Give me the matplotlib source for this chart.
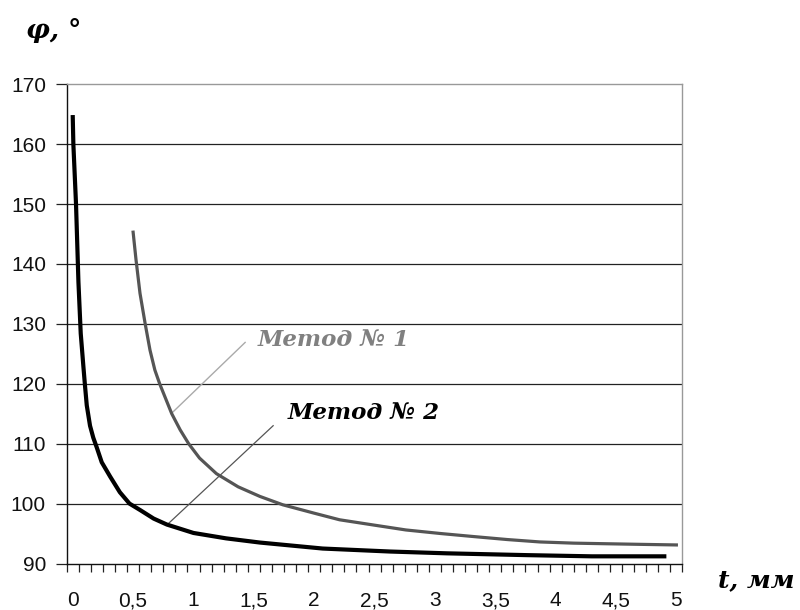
import numpy as np
import matplotlib
matplotlib.use('Agg')
import matplotlib.pyplot as plt
from matplotlib.ticker import FixedLocator

# Метод № 1 (серая кривая)
t1 = [0.5, 0.524, 0.557, 0.6, 0.64, 0.68, 0.72, 0.82, 0.89, 0.96, 1.05, 1.19, 1.37,
      1.55, 1.74, 2.0, 2.21, 2.5, 2.76, 3.05, 3.32, 3.6, 3.87, 4.15, 4.42, 4.7, 5.0]
phi1 = [145.3, 140.7, 135.1, 130, 125.6, 122.3, 120, 115, 112.3, 110, 107.6, 105, 102.8,
        101.2, 99.8, 98.4, 97.3, 96.4, 95.6, 95.0, 94.5, 94.0, 93.6, 93.4, 93.3, 93.2, 93.1]

# Метод № 2 (чёрная кривая)
t2 = [0, 0.005, 0.027, 0.047, 0.066, 0.088, 0.1, 0.116, 0.143, 0.17, 0.2, 0.24, 0.31,
      0.39, 0.47, 0.56, 0.67, 0.78, 1.0, 1.27, 1.55, 2.07, 2.63, 3.1, 3.76, 4.3, 4.9]
phi2 = [164.5, 160, 150, 137, 128.4, 122.9, 120, 116.4, 113.0, 111, 109.3, 106.9, 104.5,
        101.9, 100, 98.9, 97.5, 96.5, 95.1, 94.2, 93.5, 92.5, 92.0, 91.7, 91.4, 91.2, 91.2]

x_ticks = [0, 0.5, 1, 1.5, 2, 2.5, 3, 3.5, 4, 4.5, 5]
x_labels = ['0', '0,5', '1', '1,5', '2', '2,5', '3', '3,5', '4', '4,5', '5']
y_ticks = [90, 100, 110, 120, 130, 140, 150, 160, 170]

serif_bi = dict(family=['DejaVu Serif'], weight='bold', style='italic')

fig = plt.figure(figsize=(8, 6.1), dpi=100)
ax = fig.add_axes([0.0834, 0.0762, 0.853 - 0.0834, 0.862 - 0.0762])

# сетка
for y in y_ticks[1:-1]:
    ax.axhline(y, color='#222222', lw=0.9, zorder=1)

ax.plot(t1, phi1, color='#555555', lw=2.3, solid_joinstyle='round', zorder=3)
ax.plot(t2, phi2, color='#000000', lw=3.0, solid_joinstyle='round', zorder=3)

ax.set_xlim(-0.05, 5.05)
ax.set_ylim(90, 170)

ax.xaxis.set_major_locator(FixedLocator(x_ticks))
ax.set_xticklabels(x_labels)
ax.xaxis.set_minor_locator(FixedLocator(np.round(np.arange(-0.05, 5.06, 0.1), 3)))
ax.tick_params(axis='x', which='major', length=0, pad=20)
ax.tick_params(axis='x', which='minor', length=6, width=0.9, color='#222222', direction='out')
ax.set_yticks(y_ticks)
ax.tick_params(axis='y', length=8, width=0.9, color='#222222', pad=7)
for lab in ax.get_xticklabels() + ax.get_yticklabels():
    lab.set_family(['Liberation Sans', 'DejaVu Sans'])
    lab.set_fontsize(15)
    lab.set_color('#111111')

ax.spines['left'].set_color('#111111')
ax.spines['bottom'].set_color('#111111')
ax.spines['top'].set_color('#999999')
ax.spines['right'].set_color('#999999')
for s in ax.spines.values():
    s.set_linewidth(1.0)

# выноски
ax.plot([1.428, 0.82], [126.9, 115.1], color='#aaaaaa', lw=1.0, zorder=2)
ax.plot([1.66, 0.778], [113.0, 96.4], color='#555555', lw=0.9, zorder=2)
ax.text(1.53, 127.3, 'Метод № 1', color='#808080', fontsize=16.5, va='center', ha='left', **serif_bi)
ax.text(1.78, 115.1, 'Метод № 2', color='#000000', fontsize=16.5, va='center', ha='left', **serif_bi)

# подписи осей
fig.text(0.033, 0.95, 'φ, °', fontsize=19, va='center', ha='left', **serif_bi)
fig.text(0.898, 0.049, 't, мм', fontsize=18, va='center', ha='left', **serif_bi)

fig.savefig('out.png', dpi=100)
